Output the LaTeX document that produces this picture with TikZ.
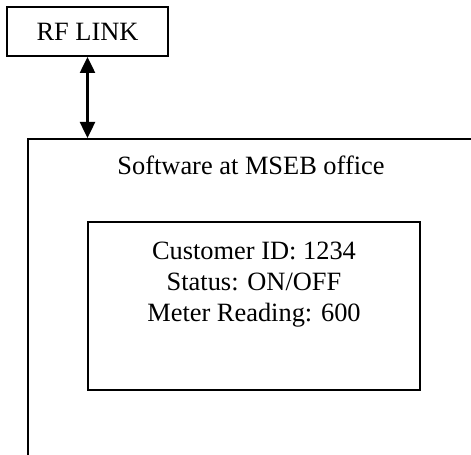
\documentclass[tikz,border=0pt]{standalone}
\usepackage{fontspec}
\setmainfont{Liberation Serif}
\usetikzlibrary{arrows.meta}

\begin{document}
\begin{tikzpicture}[x=1bp, y=1bp, line width=2bp]
	\tikzstyle{every node} = [font=\fontsize{26.4bp}{31bp}\selectfont]
	\tikzstyle{box} = [draw, rectangle, inner sep=0pt]
	\useasboundingbox (0,0) rectangle (471,455);
	\clip (0,0) rectangle (471,455);
	\node [box, minimum width=161bp, minimum height=49bp] (rf) at (87.5, 423.5) {};
	\node (rftext) at (87.5, 423.5) {RF LINK};
	\node [box, minimum width=492bp, minimum height=366bp] (office) at (274, 133) {};
	\node [anchor=base] (title) at (251, 280) {Software at MSEB office};
	\node [box, minimum width=332bp, minimum height=168bp] (data) at (254, 149) {};
	\node [anchor=north, inner sep=0pt, align=center] (fields) at (254, 214)
		{Customer ID: 1234\\Status: ON/OFF\\Meter Reading: 600};
	\draw [line width=2.5bp, {Triangle[length=16bp,width=15bp]}-{Triangle[length=16bp,width=15bp]}]
		(rf.south) -- (rf.south |- office.north);
\end{tikzpicture}
\end{document}
